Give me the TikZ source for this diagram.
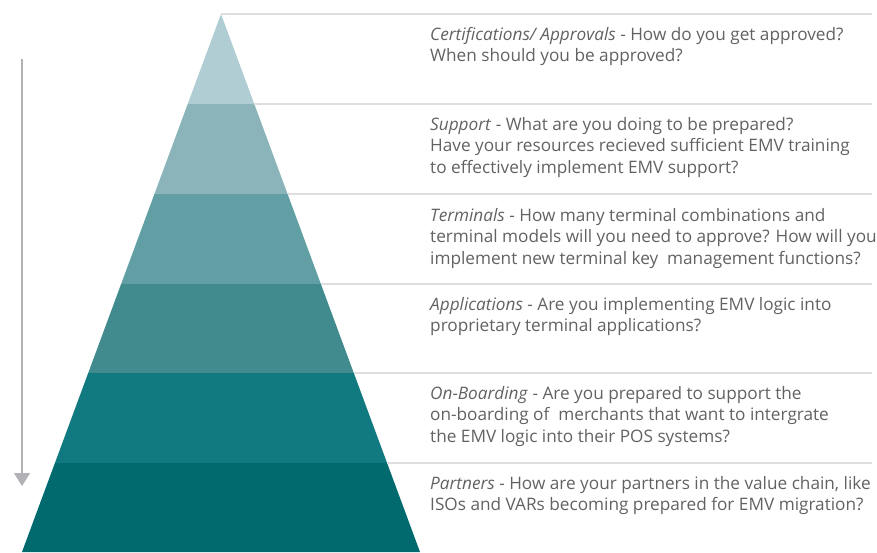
\documentclass[tikz,border=0pt]{standalone}
\usepackage{fontspec}
\setmainfont{Open Sans}
\usetikzlibrary{arrows.meta}
\definecolor{tealA}{RGB}{175,205,210}
\definecolor{tealB}{RGB}{138,180,185}
\definecolor{tealC}{RGB}{98,159,165}
\definecolor{tealD}{RGB}{65,139,142}
\definecolor{tealE}{RGB}{16,122,128}
\definecolor{tealF}{RGB}{0,106,110}
\definecolor{rulegrey}{RGB}{222,222,222}
\definecolor{arrowgrey}{RGB}{178,178,182}
\definecolor{textgrey}{RGB}{98,98,98}

\begin{document}
\begin{tikzpicture}[x=1pt,y=-1pt,
    desc/.style={anchor=base west,align=left,inner sep=0pt,text=textgrey,
      font=\fontsize{17.2}{21.5}\selectfont}]
    \useasboundingbox (0,0) rectangle (877,552);
    % pyramid bands and the rules beside them
    \foreach \t/\b/\c in {14/104/tealA,104/194/tealB,194/284/tealC,
                          284/373/tealD,373/463/tealE,463/552/tealF}{
      \fill[\c] ({221-0.3699*(\t-14)},\t) -- ({221+0.3699*(\t-14)},\t)
        -- ({221+0.3699*(\b-14)},\b) -- ({221-0.3699*(\b-14)},\b) -- cycle;
      \draw[rulegrey,line width=1.4pt] ({221+0.3699*(\t-14)},\t) -- (872,\t);
    };
    % arrow on the left
    \coordinate (arrtop) at (22,59);
    \coordinate (arrbot) at (22,486);
    \draw[arrowgrey,line width=1.4pt,-{Triangle[width=16pt,length=13pt]}]
      (arrtop) -- (arrbot);
    % texts (base = baseline of the last line)
    \node[desc] (cert) at (430,61.5) {\textit{Certifications/ Approvals} - How do you get approved?\\
      When should you be approved?};
    \node[desc] (supp) at (430,173) {\textit{Support} - What are you doing to be prepared?\\
      Have your resources recieved sufficient EMV training\\
      to effectively implement EMV support?};
    \node[desc] (term) at (430,264) {\textit{Terminals} - How many terminal combinations and\\
      terminal models will you need to approve? How will you\\
      implement new terminal key\ \ management functions?};
    \node[desc] (appl) at (430,331.5) {\textit{Applications} - Are you implementing EMV logic into\\
      proprietary terminal applications?};
    \node[desc] (onbo) at (430,442) {\textit{On-Boarding} - Are you prepared to support the\\
      on-boarding of\ \ merchants that want to intergrate\\
      the EMV logic into their POS systems?};
    \node[desc] (part) at (430,510.5) {\textit{Partners} - How are your partners in the value chain, like\\
      ISOs and VARs becoming prepared for EMV migration?};
  \end{tikzpicture}
\end{document}
